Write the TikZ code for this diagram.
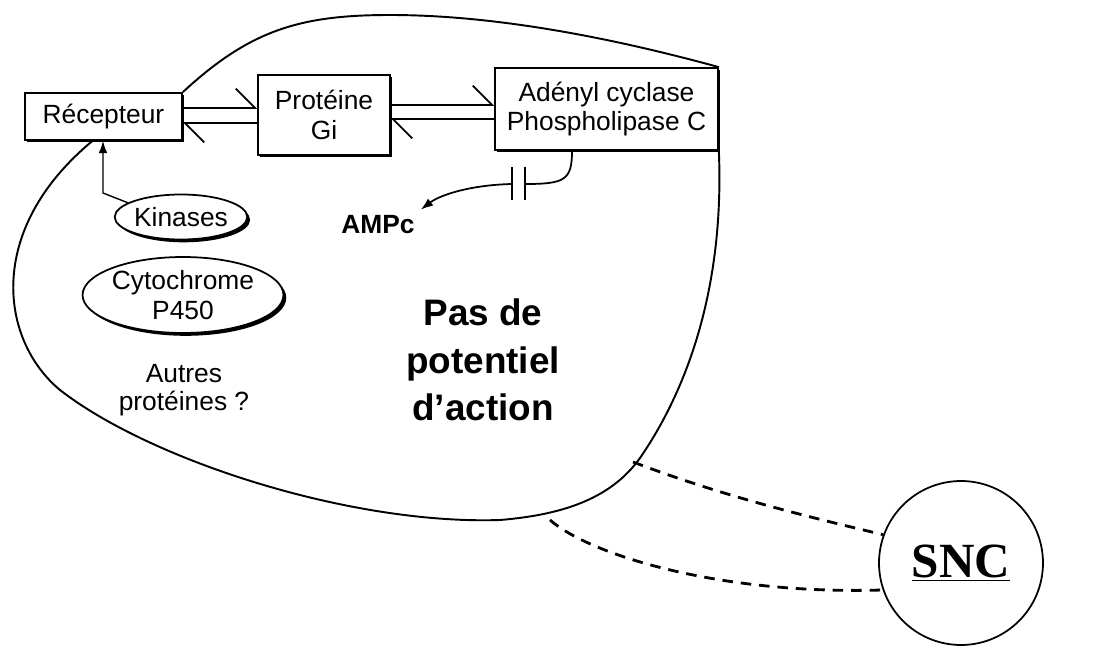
\documentclass[tikz,border=0pt]{standalone}
\usepackage{fontspec}
\setmainfont{Liberation Sans}
\newfontfamily\sncfont{Liberation Serif}
\usepackage{tikz}
\usetikzlibrary{shadows,calc,positioning,shapes.geometric}
\usetikzlibrary{arrows.meta}
\tikzset{>={Latex[width=5pt,length=7pt]}}

\begin{document}
\begin{tikzpicture}[
		x=0.02cm, y=-0.02cm,
		every node/.style={font=\fontsize{15}{17}\selectfont},
		protbox/.style={draw, line width=1pt, fill=white, align=center, inner sep=0pt,
				drop shadow={shadow xshift=1.3pt, shadow yshift=-1.3pt, fill=black, opacity=1}},
		enzyme/.style={ellipse, draw, line width=1pt, fill=white, align=center, inner sep=0pt,
				drop shadow={shadow xshift=1.6pt, shadow yshift=-1.6pt, fill=black, opacity=1}},
		cell/.style={line width=1.1pt},
		harp/.style={line width=1.1pt, -{Straight Barb[harpoon,length=11pt,width=22pt,line width=1pt]}},
		link/.style={line width=1.6pt, dash pattern=on 6pt off 4.5pt},
	]
	\useasboundingbox (0,0) rectangle (1107,652);

	% Draw the receptor chain
	\node[protbox, minimum width=3.14cm, minimum height=0.94cm] (recepteur) at (103.5,116.5) {Récepteur};
	\node[protbox, minimum width=2.64cm, minimum height=1.6cm] (proteine) at (324,115) {Protéine\\Gi};
	\node[protbox, minimum width=4.46cm, minimum height=1.64cm] (adenyl) at (606.5,109) {Adényl cyclase\\Phospholipase C};

	\coordinate (rowA) at (0,108);
	\coordinate (rowB) at (0,123);
	\coordinate (rowC) at (0,105);
	\coordinate (rowD) at (0,119);

	\draw[harp] (recepteur.east |- rowA) -- (proteine.west |- rowA);
	\draw[harp] (proteine.west |- rowB) -- (recepteur.east |- rowB);
	\draw[harp] (proteine.east |- rowC) -- (adenyl.west |- rowC);
	\draw[harp] (adenyl.west |- rowD) -- (proteine.east |- rowD);

	% cell outline
	\coordinate (recjoin) at ($(recepteur.south)+(-11,0)$);
	\draw[cell] (recepteur.north east) .. controls (250,30) and (300,15) .. (390,15)
		.. controls (500,15) and (620,40) .. (adenyl.north east);
	\draw[cell] (adenyl.south east) .. controls (725,300) and (680,400) .. (640,458)
		.. controls (610,500) and (560,515) .. (500,520)
		.. controls (350,525) and (150,460) .. (60,390)
		.. controls (0,340) and (-15,230) .. (recjoin);

	% enzymes
	\node[enzyme, minimum width=2.44cm, minimum height=0.9cm] (kinases) at (181,217) {Kinases};
	\node[enzyme, minimum width=3.74cm, minimum height=1.52cm] (cyto) at (183,295) {Cytochrome\\P450};
	\node[align=center, font=\fontsize{15}{16}\selectfont] (autres) at (184,390) {Autres\\protéines ?};

	\coordinate (kbend) at (103,193);
	\draw[line width=0.8pt, ->] (kinases.165) -- (kbend) -- (kbend |- recepteur.south);

	% second messenger
	\node[font=\fontsize{15}{17}\selectfont\bfseries] (ampc) at (378,225) {AMPc};
	\coordinate (acout) at ($(adenyl.south)+(-34.5,0)$);
	\coordinate (capR) at (525,184);
	\coordinate (capL) at (512,184);
	\draw[line width=1pt] (acout) .. controls (572,180) and (565,184) .. (capR);
	\draw[line width=1.2pt] ($(capR)+(0,-17)$) -- ($(capR)+(0,16)$);
	\draw[line width=1.2pt] ($(capL)+(0,-17)$) -- ($(capL)+(0,16)$);
	\draw[line width=1pt, ->] (capL) .. controls (470,185) and (440,195) .. (ampc.north east);

	\node[align=center, font=\fontsize{21}{27}\selectfont\bfseries] (pasde) at (483,360) {Pas de\\potentiel\\d'action};

	% central nervous system
	\node[circle, draw, line width=1pt, minimum size=3.28cm, inner sep=0pt] (snc) at (961,563)
	{\fontsize{28}{32}\sncfont\bfseries\underline{SNC}};

	\coordinate (dashA) at (633,462);
	\coordinate (dashB) at (550,520);
	\draw[link] (dashA) .. controls (720,495) and (800,515) .. (snc.160);
	\draw[link] (dashB) .. controls (590,555) and (720,595) .. (snc.199);

\end{tikzpicture}
\end{document}
